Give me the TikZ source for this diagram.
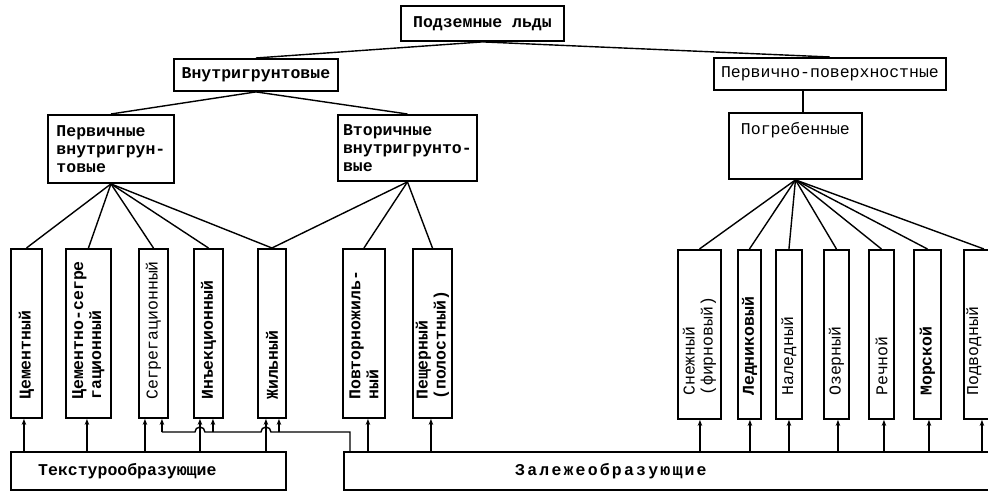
\documentclass[tikz,border=0pt]{standalone}
\usepackage{fontspec}
\setmainfont{Liberation Mono}
\usetikzlibrary{arrows.meta,calc}
\begin{document}
\begin{tikzpicture}[x=1pt,y=-1pt,
  every node/.style={font=\fontsize{16.5}{18}\selectfont, inner sep=0pt},
  bf/.style={font=\fontsize{16.5}{18}\selectfont\bfseries},
  box/.style={draw, line width=1.9pt, anchor=north west},
  line/.style={line width=1.4pt},
  arr/.style={line, -{Stealth[length=6pt,width=4.5pt]}},
  vlab/.style={rotate=90, anchor=west, align=left}]
\useasboundingbox (0,0) rectangle (988,492);
\clip (0,0) rectangle (988,492);

% upper levels
\node[box, bf, minimum width=163pt, minimum height=35pt] (top) at (400,5) {Подземные льды};
\node[box, bf, minimum width=164pt, minimum height=32pt] (vnut) at (173,58) {Внутригрунтовые};
\node[box, minimum width=232pt, minimum height=32pt] (pp) at (713,57) {Первично-поверхностные};
\node[box, bf, minimum width=126pt, minimum height=68pt, align=left] (perv) at (47,114) {Первичные\\внутригрун-\\товые};
\node[box, bf, minimum width=139pt, minimum height=66pt, align=left] (vtor) at (337,114) {Вторичные\\внутригрунто-\\вые};
\node[box, minimum width=133pt, minimum height=66pt] (pog) at (728,112) {};
\node[anchor=north] (pogt) at ([yshift=-10pt]pog.north) {Погребенные};

% vertical boxes, left group
\node[box, minimum width=31pt, minimum height=169pt] (cem) at (10,248) {};
\node[box, minimum width=45pt, minimum height=169pt] (cs) at (65,248) {};
\node[box, minimum width=29pt, minimum height=169pt] (seg) at (138,248) {};
\node[box, minimum width=29pt, minimum height=169pt] (inj) at (193,248) {};
\node[box, minimum width=28pt, minimum height=169pt] (zhil) at (257,248) {};
\node[box, minimum width=42pt, minimum height=169pt] (pzh) at (342,248) {};
\node[box, minimum width=39pt, minimum height=169pt] (pesh) at (412,248) {};
% vertical boxes, right group
\node[box, minimum width=43pt, minimum height=169pt] (sn) at (677,249) {};
\node[box, minimum width=23pt, minimum height=169pt] (led) at (737,249) {};
\node[box, minimum width=26pt, minimum height=169pt] (nal) at (775,249) {};
\node[box, minimum width=25pt, minimum height=169pt] (oz) at (823,249) {};
\node[box, minimum width=25pt, minimum height=169pt] (rech) at (868,249) {};
\node[box, minimum width=27pt, minimum height=169pt] (mor) at (913,249) {};
\node[box, minimum width=40pt, minimum height=169pt] (pod) at (963,249) {};

% vertical labels
\node[vlab, bf] (cem-t) at ([yshift=19pt]cem.south) {Цементный};
\node[vlab, bf] (cs-t) at ([yshift=19pt]cs.south) {Цементно-сегре\\гационный};
\node[vlab] (seg-t) at ([yshift=19pt]seg.south) {Сегрегационный};
\node[vlab, bf] (inj-t) at ([yshift=19pt]inj.south) {Инъекционный};
\node[vlab, bf] (zhil-t) at ([yshift=19pt]zhil.south) {Жильный};
\node[vlab, bf] (pzh-t) at ([yshift=19pt]pzh.south) {Повторножиль-\\ный};
\node[vlab, bf] (pesh-t) at ([yshift=19pt]pesh.south) {Пещерный\\(полостный)};
\node[vlab] (sn-t) at ([yshift=24pt]sn.south) {Снежный\\(фирновый)};
\node[vlab, bf] (led-t) at ([yshift=24pt]led.south) {Ледниковый};
\node[vlab] (nal-t) at ([yshift=24pt]nal.south) {Наледный};
\node[vlab] (oz-t) at ([yshift=24pt]oz.south) {Озерный};
\node[vlab] (rech-t) at ([yshift=24pt]rech.south) {Речной};
\node[vlab, bf] (mor-t) at ([yshift=24pt]mor.south) {Морской};
\node[vlab] (pod-t) at ([xshift=-10pt,yshift=24pt]pod.south) {Подводный};

% bottom boxes
\node[box, minimum width=275pt, minimum height=38pt] (tex) at (10,451) {};
\node[bf, anchor=west] (tex-t) at ([xshift=28pt]tex.west) {Текстурообразующие};
\node[box, minimum width=660pt, minimum height=38pt] (zal) at (343,451) {};
\node[bf, anchor=west] (zal-t) at ([xshift=172pt]zal.west) {\spaceskip=2.2pt З а л е ж е о б р а з у ю щ и е};

% tree connectors
\draw[line] (top.south) -- (vnut.north);
\draw[line] (top.south) -- (pp.north);
\draw[line] (vnut.south) -- (perv.north);
\draw[line] (vnut.south) -- (vtor.north);
\coordinate (ppx) at ([xshift=7.5pt]pog.north);
\draw[line] (ppx |- pp.south) -- (ppx);
\foreach \c in {cem,cs,seg,inj,zhil} \draw[line] (perv.south) -- (\c.north);
\foreach \c in {zhil,pzh,pesh} \draw[line] (vtor.south) -- (\c.north);
\foreach \c in {sn,led,nal,oz,rech,mor,pod} \draw[line] (pog.south) -- (\c.north);

% arrows up from bottom boxes
\foreach \n/\dx/\s in {cem/-2.5/tex, cs/-1.5/tex, seg/-8.5/tex, inj/-8.5/tex, zhil/-6/tex,
    pzh/4/zal, pesh/-1.5/zal, sn/0.5/zal, led/0.5/zal, nal/0/zal, oz/1.5/zal,
    rech/2.5/zal, mor/1.5/zal, pod/-2/zal}{
  \coordinate (\n-in) at ([xshift=\dx pt]\n.south);
  \draw[arr] (\n-in |- \s.north) -- (\n-in);
}

% feedback line from Залежеобразующие
\coordinate (busy) at (0,432);
\coordinate (zal-out) at ([xshift=7pt]zal.north west);
\coordinate (seg-fb) at ([xshift=8.5pt]seg.south);
\coordinate (inj-fb) at ([xshift=4.5pt]inj.south);
\coordinate (zhil-fb) at ([xshift=7pt]zhil.south);
\draw[line] (zal-out) -- (zal-out |- busy)
  -- ($(zhil-in |- busy)+(5,0)$) arc[start angle=0, end angle=180, radius=5pt]
  -- ($(inj-in |- busy)+(5,0)$) arc[start angle=0, end angle=180, radius=5pt]
  -- (seg-fb |- busy);
\draw[arr] (seg-fb |- busy) -- (seg-fb);
\draw[arr] (inj-fb |- busy) -- (inj-fb);
\draw[arr] (zhil-fb |- busy) -- (zhil-fb);
\end{tikzpicture}
\end{document}
